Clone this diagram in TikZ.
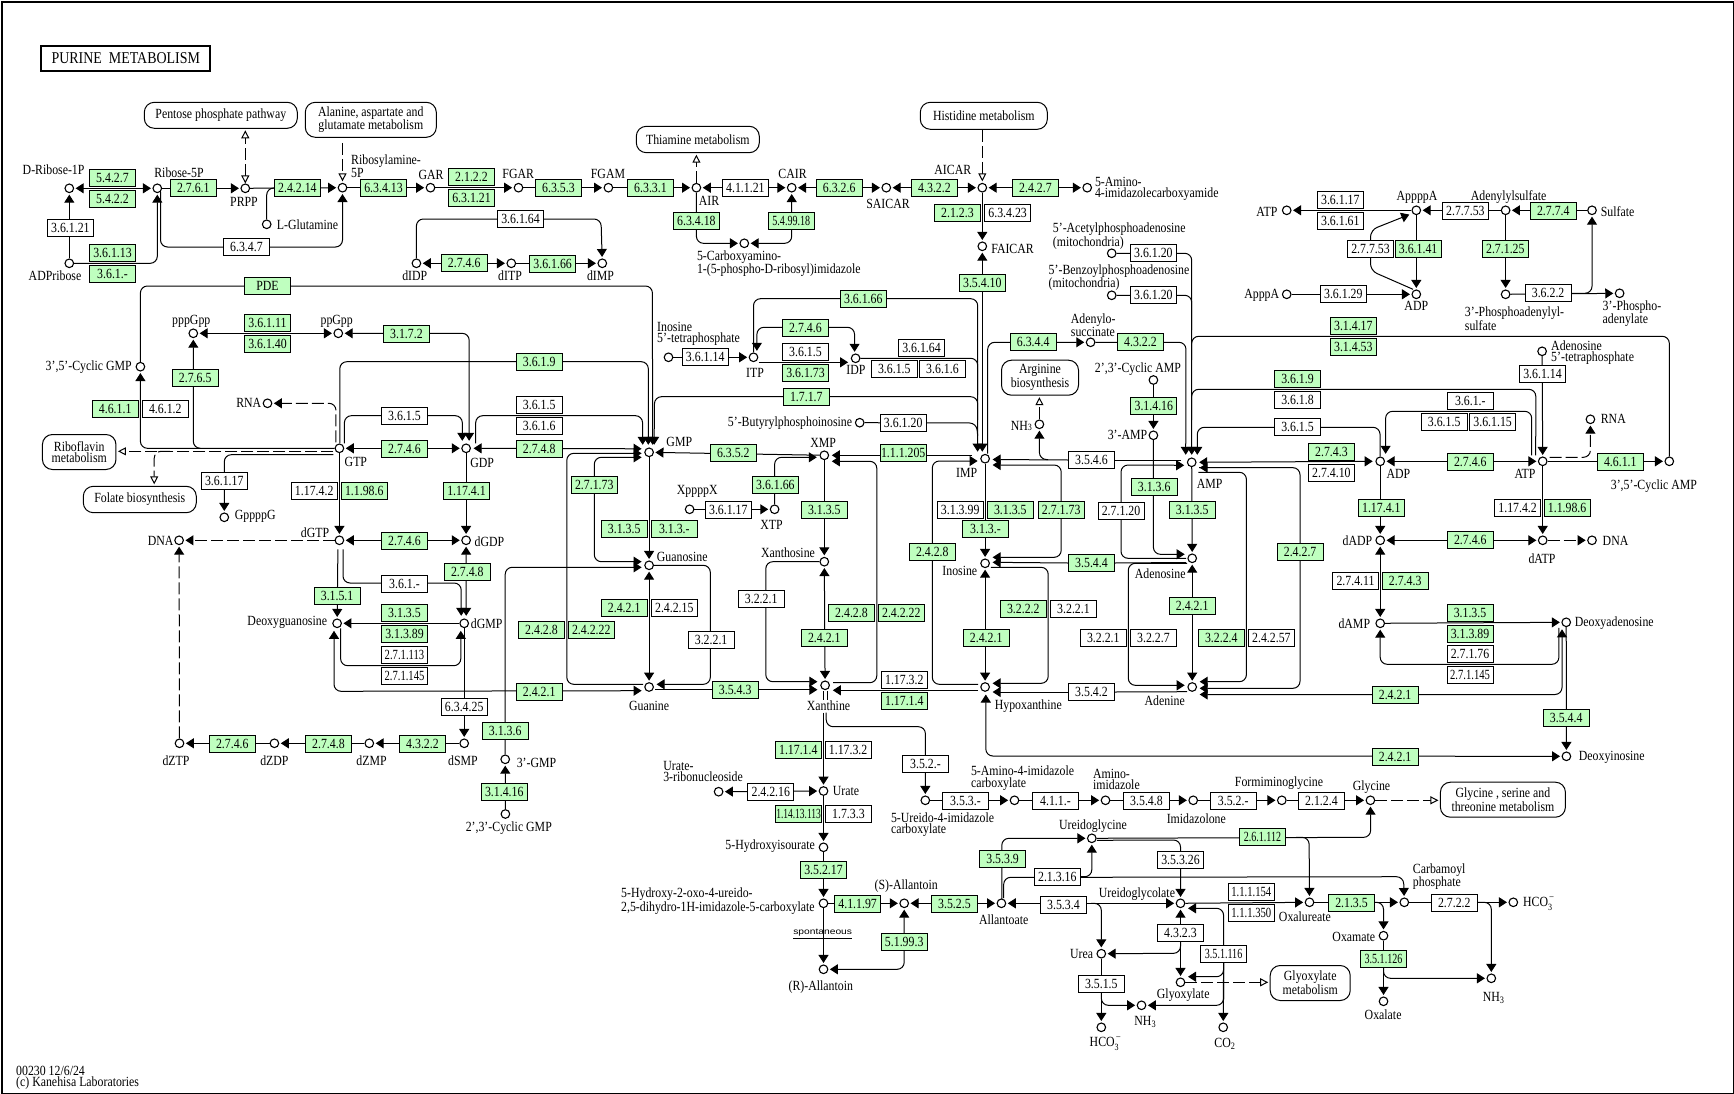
\documentclass[tikz,border=0pt]{standalone}
\usepackage{fontspec}
\setmainfont{Liberation Serif}[FakeStretch=0.845]
\newfontfamily\ksans{Liberation Sans}
\usetikzlibrary{arrows.meta,calc}
\definecolor{kg}{HTML}{BFFFBF}
\pgfdeclarelayer{bg}\pgfsetlayers{bg,main}
\newcommand{\hcot}{HCO\rlap{\raisebox{-.28em}{\fontsize{9.5}{9.5}\selectfont 3}}\raisebox{.5em}{\fontsize{9.5}{9.5}\selectfont\,--}}
\tikzset{
 boxbase/.style={draw=black,line width=1pt,inner sep=0pt,minimum width=46pt,minimum height=17.3pt,font=\fontsize{14}{14}\selectfont},
 en/.style={boxbase,fill=kg},
 wn/.style={boxbase,fill=white},
 cp/.style={circle,draw=black,fill=white,line width=1.1pt,inner sep=0pt,minimum size=8.6pt},
 mapn/.style={draw=black,fill=white,line width=1pt,rounded corners=10pt,inner sep=0pt,align=center,font=\fontsize{14}{11.2}\selectfont},
 lb/.style={inner sep=0pt,align=center,font=\fontsize{14}{11.2}\selectfont},
 lbl/.style={lb,anchor=west,align=left},
 lbr/.style={lb,anchor=east,align=right},
 ln/.style={line width=1pt,black},
 ar/.style={ln,-{Triangle[length=8pt,width=10pt]},shorten >=1.5pt},
 ra/.style={ln,{Triangle[length=8pt,width=10pt]}-,shorten <=1.5pt},
 lr/.style={ln,{Triangle[length=8pt,width=10pt]}-{Triangle[length=8pt,width=10pt]},shorten >=1.5pt,shorten <=1.5pt},
 rc/.style={rounded corners=7pt},
 dsh/.style={dash pattern=on 12pt off 4pt},
 dfil/.style={ar,dsh},
 dopn/.style={ln,dsh,-{Triangle[open,fill=white,length=8pt,width=8pt]},shorten >=1.5pt},
 dopb/.style={ln,dsh,{Triangle[open,fill=white,length=8pt,width=8pt]}-{Triangle[open,fill=white,length=8pt,width=8pt]},shorten >=1.5pt},
}
\newcommand{\sq}[2][.85]{\scalebox{#1}[1]{#2}}
\begin{document}
\begin{tikzpicture}[x=1pt,y=-1pt]
\useasboundingbox (0,0) rectangle (1734,1094);
\node[draw=black,line width=2pt,minimum width=1732pt,minimum height=1092pt,inner sep=0pt,anchor=north west] (frame) at (1,1) {};
\node[draw=black,line width=2.2pt,minimum width=169pt,minimum height=25.5pt,inner sep=0pt,font=\fontsize{16.5}{17}\selectfont] (title) at (125.8,58.5) {PURINE\ \ METABOLISM};
\node[lbl] (foot) at (16,1078) {00230 12/6/24\\(c) Kanehisa Laboratories};
% maps
\node[mapn,minimum width=153pt,minimum height=26pt] (mPent) at (220.8,115.3) {Pentose phosphate pathway};
\node[mapn,minimum width=131pt,minimum height=35pt] (mAla) at (370.8,119.8) {Alanine, aspartate and\\glutamate metabolism};
\node[mapn,minimum width=123pt,minimum height=26.4pt] (mThi) at (697.8,139.5) {Thiamine metabolism};
\node[mapn,minimum width=127pt,minimum height=27pt] (mHis) at (983.8,115.8) {Histidine metabolism};
\node[mapn,minimum width=77pt,minimum height=35pt] (mArg) at (1040,377.7) {Arginine\\biosynthesis};
\node[mapn,minimum width=73.5pt,minimum height=35pt] (mRib) at (79.2,452) {Riboflavin\\metabolism};
\node[mapn,minimum width=113pt,minimum height=26.4pt] (mFol) at (139.8,499.5) {Folate biosynthesis};
\node[mapn,minimum width=125pt,minimum height=35pt] (mGly) at (1502.9,799.7) {Glycine , serine and\\threonine metabolism};
\node[mapn,minimum width=80pt,minimum height=35pt] (mGlx) at (1310.2,983) {Glyoxylate\\metabolism};
% compounds
\foreach \n/\x/\y in {DRP/69.3/188.3,RFP/157.3/188.3,PRPP/245.3/188.3,RibA/342.5/187.7,GAR/430.5/187.7,FGAR/518.5/187.7,FGAM/608.4/187.7,AIR/696.4/187.7,CAIR/791.7/187.7,SAICAR/886.3/187.7,AICAR/982.3/187.7,AmImid/1087.2/187.7,ADPR/69.3/263.3,LGln/266.7/224.3,dIDP/416.4/263.3,dITP/511.3/263.3,dIMP/602.3/263.3,CarbAm/744.3/243.3,FAICAR/982.3/246.3,AcetP/1111.7/253.3,BenzP/1111.7/295.3,AdSuc/1090.6/342.3,ITP/753.5/357.3,IDP/855.6/358.3,ITetra/668.5/357.3,cAMPtt/1153.4/380,NHa/1039.4/424.3,pppGpp/193.3/333.3,ppGpp/338.3/333.3,cGMP/140.4/366.7,RNAa/267.5/403.3,GTP/339.4/448.3,GDP/466.1/448.3,GMP/649.1/452.3,XMP/824.3/455.3,IMP/985.1/458.7,AMP/1191.7/462.3,ADP/1380.2/461.3,ATP/1542.7/461.3,cAMP/1669.3/461.3,RNAb/1590.4/419.3,AdoTetra/1542.1/351.3,tAMP/1153.4/435.3,ATPtop/1286.7/210.3,AppppA/1416.3/210.3,AdSulf/1505.6/210.3,Sulfate/1592/210.3,ApppA/1286.7/294.3,ADPtop/1416.3/294.3,PAPS/1505.6/294.3,PAP/1619.6/293.3,GppppG/224.3/517.3,dGTP/339.4/540.3,dGDP/466.1/540.3,DNAa/179.1/540.3,XTP/774.6/509.3,XppppX/689.6/509.3,Guo/649.1/565.3,Xao/824.3/561.7,Ino/985.1/563.3,Ado/1192.2/558.3,dADP/1380.2/540.3,dATP/1542.7/540.3,DNAb/1592/540.3,dAMP/1380.2/623.3,dAdo/1566.2/622.3,dGuo/337.1/623.3,dGMP/464.2/623.3,Gua/649.1/687,Xan/825.1/685.3,Hyp/985.1/687,Ade/1192.2/687,dIno/1566.4/756.3,dZTP/179.5/743.3,dZDP/274.4/743.3,dZMP/369.3/743.3,dSMP/464.2/743.3,tGMP/505.2/759.3,cGMPtt/505.4/814,Urate/823.5/791,URibo/718.6/791.7,HIU/823.5/847.3,HOU/823.5/903.3,SAll/904.2/903.3,RAll/823.5/969.3,Allto/1001.4/903.3,UrImid/925.3/800.3,AmImC/1014.5/800.3,AmIm/1105.5/800.3,Imdz/1193.2/800.3,Fgly/1281.8/800.3,Gly/1370.4/800.3,UGly/1091.8/838.3,UGlc/1180.5/903.3,Urea/1101.3/953.7,NHb/1141.5/1005.3,HCOa/1101.3/1027.3,Glx/1180.5/982.3,COt/1223.2/1027.3,Oxu/1309.5/902.3,CbP/1404.3/902.3,HCOb/1513.3/902.3,Oxam/1383.5/935.7,Oxal/1383.5/1001.3,NHc/1491.3/978.3,Buty/859.7/422.7}
 {\node[cp] (\n) at (\x,\y) {};}
% enzymes green
\node[en] (e1) at (112.5,178) {5.4.2.7};
\node[en] (e2) at (112.5,199) {5.4.2.2};
\node[en] (e3) at (193.3,188) {2.7.6.1};
\node[en] (e4) at (297.4,188) {2.4.2.14};
\node[en] (e5) at (383.5,188) {6.3.4.13};
\node[en] (e6) at (471.5,177.3) {2.1.2.2};
\node[en] (e7) at (471.5,198) {6.3.1.21};
\node[en] (e8) at (558.4,188) {6.3.5.3};
\node[en] (e9) at (650.5,188) {6.3.3.1};
\node[en] (e10) at (839.2,188) {6.3.2.6};
\node[en] (e11) at (934.5,188) {4.3.2.2};
\node[en] (e12) at (1035.5,188) {2.4.2.7};
\node[en] (e13) at (696.4,221) {6.3.4.18};
\node[en] (e14) at (791.3,221) {\sq{5.4.99.18}};
\node[en] (e15) at (957.4,213.3) {2.1.2.3};
\node[en] (e16) at (982.3,283) {3.5.4.10};
\node[en] (e17) at (112.5,253) {3.6.1.13};
\node[en] (e18) at (112.5,274) {3.6.1.-};
\node[en] (e19) at (464.2,263) {2.7.4.6};
\node[en] (e20) at (552.6,264.3) {3.6.1.66};
\node[en] (e21) at (267.5,286) {PDE};
\node[en] (e22) at (267.5,323) {3.6.1.11};
\node[en] (e23) at (267.5,344) {3.6.1.40};
\node[en] (e24) at (406.4,334) {3.1.7.2};
\node[en] (e25) at (539.2,361.7) {3.6.1.9};
\node[en] (e26) at (195.2,378) {2.7.6.5};
\node[en] (e27) at (115.2,409) {4.6.1.1};
\node[en] (e28) at (404.5,449) {2.7.4.6};
\node[en] (e29) at (539.2,449) {2.7.4.8};
\node[en] (e30) at (364.3,491) {1.1.98.6};
\node[en] (e31) at (466.5,491) {1.17.4.1};
\node[en] (e32) at (404.5,541) {2.7.4.6};
\node[en] (e33) at (467.3,572) {2.7.4.8};
\node[en] (e34) at (337.1,596) {3.1.5.1};
\node[en] (e35) at (404.5,613) {3.1.3.5};
\node[en] (e36) at (404.5,634) {3.1.3.89};
\node[en] (e37) at (541.5,630) {2.4.2.8};
\node[en] (e38) at (591.3,630) {2.4.2.22};
\node[en] (e39) at (539.2,692) {2.4.2.1};
\node[en] (e40) at (505.2,731) {3.1.3.6};
\node[en] (e41) at (422.5,744) {4.3.2.2};
\node[en] (e42) at (328.4,744) {2.7.4.8};
\node[en] (e43) at (232.3,744) {2.7.4.6};
\node[en] (e44) at (504.3,792) {3.1.4.16};
\node[en] (e45) at (594.3,485) {2.7.1.73};
\node[en] (e46) at (624.2,528.7) {3.1.3.5};
\node[en] (e47) at (674.3,528.7) {3.1.3.-};
\node[en] (e48) at (733.3,452.7) {6.3.5.2};
\node[en] (e49) at (903.2,452.7) {1.1.1.205};
\node[en] (e50) at (775.4,485) {3.6.1.66};
\node[en] (e51) at (824.3,510) {3.1.3.5};
\node[en] (e52) at (851.5,612.7) {2.4.2.8};
\node[en] (e53) at (901.3,612.7) {2.4.2.22};
\node[en] (e54) at (624.2,608) {2.4.2.1};
\node[en] (e55) at (824.3,638) {2.4.2.1};
\node[en] (e56) at (735.2,689.7) {3.5.4.3};
\node[en] (e57) at (904.3,701) {1.17.1.4};
\node[en] (e58) at (1010.3,509.7) {3.1.3.5};
\node[en] (e59) at (1061.2,509.7) {2.7.1.73};
\node[en] (e60) at (985.5,528.7) {3.1.3.-};
\node[en] (e61) at (932.3,552) {2.4.2.8};
\node[en] (e62) at (1091.5,563) {3.5.4.4};
\node[en] (e63) at (1023.3,609) {3.2.2.2};
\node[en] (e64) at (986.2,638) {2.4.2.1};
\node[en] (e65) at (798.3,750) {1.17.1.4};
\node[en] (e66) at (863.3,298.7) {3.6.1.66};
\node[en] (e67) at (805.5,328) {2.7.4.6};
\node[en] (e68) at (805.5,372.7) {3.6.1.73};
\node[en] (e69) at (806.3,396.7) {1.7.1.7};
\node[en] (e70) at (1033.2,342) {6.3.4.4};
\node[en] (e71) at (1140.4,342) {4.3.2.2};
\node[en] (e72) at (1553.3,211) {2.7.7.4};
\node[en] (e73) at (1418.1,249) {3.6.1.41};
\node[en] (e74) at (1505.3,249) {2.7.1.25};
\node[en] (e75) at (1353.3,325.7) {3.1.4.17};
\node[en] (e76) at (1353.3,346.7) {3.1.4.53};
\node[en] (e77) at (1297.5,379) {3.6.1.9};
\node[en] (e78) at (1331.4,452) {2.7.4.3};
\node[en] (e79) at (1470.3,462) {2.7.4.6};
\node[en] (e80) at (1620.3,461.7) {4.6.1.1};
\node[en] (e81) at (1381.3,508) {1.17.4.1};
\node[en] (e82) at (1567.1,508) {1.1.98.6};
\node[en] (e83) at (1470.3,540) {2.7.4.6};
\node[en] (e84) at (1153.8,406) {3.1.4.16};
\node[en] (e85) at (1154.2,487.3) {3.1.3.6};
\node[en] (e86) at (1192.2,510) {3.1.3.5};
\node[en] (e87) at (1300.1,552) {2.4.2.7};
\node[en] (e88) at (1405.2,581) {2.7.4.3};
\node[en] (e89) at (1192.2,605.7) {2.4.2.1};
\node[en] (e90) at (1221.3,638) {3.2.2.4};
\node[en] (e91) at (1470,613) {3.1.3.5};
\node[en] (e92) at (1470,634) {3.1.3.89};
\node[en] (e93) at (1395.1,694.7) {2.4.2.1};
\node[en] (e94) at (1566.2,717.7) {3.5.4.4};
\node[en] (e95) at (1395.1,756.7) {2.4.2.1};
\node[en] (e96) at (798.6,814) {\sq[.8]{1.14.13.113}};
\node[en] (e97) at (823.5,870) {3.5.2.17};
\node[en] (e98) at (857.6,903.7) {4.1.1.97};
\node[en] (e99) at (954.4,903.7) {3.5.2.5};
\node[en] (e100) at (904.2,942) {5.1.99.3};
\node[en] (e101) at (1002.6,859) {3.5.3.9};
\node[en] (e102) at (1262.5,837) {\sq{2.6.1.112}};
\node[en] (e103) at (1351.5,902.7) {2.1.3.5};
\node[en] (e104) at (1383.5,959) {\sq{3.5.1.126}};
% enzymes white
\node[wn] (w1) at (745.4,188) {4.1.1.21};
\node[wn] (w2) at (1007.6,213.3) {6.3.4.23};
\node[wn] (w3) at (1153.4,253.3) {3.6.1.20};
\node[wn] (w4) at (1153.4,295.3) {3.6.1.20};
\node[wn] (w5) at (70.4,228.3) {3.6.1.21};
\node[wn] (w6) at (246.4,247) {6.3.4.7};
\node[wn] (w7) at (520.5,219) {3.6.1.64};
\node[wn] (w8) at (165.3,409) {4.6.1.2};
\node[wn] (w9) at (404.5,416) {3.6.1.5};
\node[wn] (w10) at (539.2,405) {3.6.1.5};
\node[wn] (w11) at (539.2,426) {3.6.1.6};
\node[wn] (w12) at (224.3,481) {3.6.1.17};
\node[wn] (w13) at (314.2,491) {1.17.4.2};
\node[wn] (w14) at (404.5,584) {3.6.1.-};
\node[wn] (w15) at (404.5,655) {\sq[.9]{2.7.1.113}};
\node[wn] (w16) at (404.5,676) {\sq[.9]{2.7.1.145}};
\node[wn] (w17) at (464.2,707) {6.3.4.25};
\node[wn] (w18) at (728.3,509.7) {3.6.1.17};
\node[wn] (w19) at (761.2,599) {3.2.2.1};
\node[wn] (w20) at (674.3,608) {2.4.2.15};
\node[wn] (w21) at (711.1,639.7) {3.2.2.1};
\node[wn] (w22) at (904.3,680) {1.17.3.2};
\node[wn] (w23) at (960.2,509.7) {3.1.3.99};
\node[wn] (w24) at (1073.5,609) {3.2.2.1};
\node[wn] (w25) at (1103.3,638) {3.2.2.1};
\node[wn] (w26) at (1091.5,692) {3.5.4.2};
\node[wn] (w27) at (1091.5,460) {3.5.4.6};
\node[wn] (w28) at (903.2,423) {3.6.1.20};
\node[wn] (w29) at (848.1,750) {1.17.3.2};
\node[wn] (w30) at (925.4,763.7) {3.5.2.-};
\node[wn] (w31) at (770.8,792.3) {2.4.2.16};
\node[wn] (w32) at (805.5,352) {3.6.1.5};
\node[wn] (w33) at (705.2,356.7) {3.6.1.14};
\node[wn] (w34) at (921.5,347.7) {3.6.1.64};
\node[wn] (w35) at (894.3,369) {3.6.1.5};
\node[wn] (w36) at (942.5,369) {3.6.1.6};
\node[wn] (w37) at (1340.3,200) {3.6.1.17};
\node[wn] (w38) at (1340.3,221) {3.6.1.61};
\node[wn] (w39) at (1465.4,211) {2.7.7.53};
\node[wn] (w40) at (1370.5,249) {2.7.7.53};
\node[wn] (w41) at (1343.3,293.7) {3.6.1.29};
\node[wn] (w42) at (1548.1,293) {3.6.2.2};
\node[wn] (w43) at (1542.5,374) {3.6.1.14};
\node[wn] (w44) at (1297.5,400) {3.6.1.8};
\node[wn] (w45) at (1470.3,400.7) {3.6.1.-};
\node[wn] (w46) at (1444.2,421.7) {3.6.1.5};
\node[wn] (w47) at (1492.6,421.7) {3.6.1.15};
\node[wn] (w48) at (1297.5,426.7) {3.6.1.5};
\node[wn] (w49) at (1331.4,473) {2.7.4.10};
\node[wn] (w50) at (1517.6,508) {1.17.4.2};
\node[wn] (w51) at (1121,510.7) {2.7.1.20};
\node[wn] (w52) at (1355.5,581) {2.7.4.11};
\node[wn] (w53) at (1153.4,638) {3.2.2.7};
\node[wn] (w54) at (1271.4,638) {2.4.2.57};
\node[wn] (w55) at (1470,654.3) {2.7.1.76};
\node[wn] (w56) at (1470,675.3) {\sq[.9]{2.7.1.145}};
\node[wn] (w57) at (848.4,814) {1.7.3.3};
\node[wn] (w58) at (965.5,800.7) {3.5.3.-};
\node[wn] (w59) at (1055.4,800.7) {4.1.1.-};
\node[wn] (w60) at (1146.5,800.7) {3.5.4.8};
\node[wn] (w61) at (1057.3,877.3) {2.1.3.16};
\node[wn] (w62) at (1063.4,904.7) {3.5.3.4};
\node[wn] (w63) at (1180.5,860) {3.5.3.26};
\node[wn] (w64) at (1180.5,933.3) {4.3.2.3};
\node[wn] (w65) at (1101.3,984) {3.5.1.5};
\node[wn] (w66) at (1233.2,800.7) {3.5.2.-};
\node[wn] (w67) at (1321.4,800.7) {2.1.2.4};
\node[wn] (w68) at (1251.3,892) {\sq[.9]{1.1.1.154}};
\node[wn] (w69) at (1251.3,913) {\sq[.9]{1.1.1.350}};
\node[wn] (w70) at (1454.3,902.7) {2.7.2.2};
\node[wn] (w71) at (1223.6,954) {\sq{3.5.1.116}};
% labels
\node[lb] (t1) at (53.6,170) {D-Ribose-1P};
\node[lb] (t2) at (179,172.7) {Ribose-5P};
\node[lb] (t3) at (244,202.3) {PRPP};
\node[lbl] (t4) at (351,166.5) {Ribosylamine-\\5P};
\node[lb] (t5) at (431,175.3) {GAR};
\node[lb] (t6) at (518.2,174.3) {FGAR};
\node[lb] (t7) at (608,174) {FGAM};
\node[lb] (t8) at (55,275.7) {ADPribose};
\node[lbl] (t9) at (276.7,225) {L-Glutamine};
\node[lb] (t10) at (414.8,275.7) {dIDP};
\node[lb] (t11) at (510,275.7) {dITP};
\node[lb] (t12) at (600.5,276) {dIMP};
\node[lb] (t13) at (191.3,321) {pppGpp};
\node[lb] (t14) at (336.7,321) {ppGpp};
\node[lbr] (t15) at (132,367.3) {3',5'-Cyclic GMP};
\node[lb] (t16) at (709,200.7) {AIR};
\node[lb] (t17) at (792.5,174.3) {CAIR};
\node[lb] (t18) at (888,204.3) {SAICAR};
\node[lb] (t19) at (952.8,169.7) {AICAR};
\node[lbl] (t20) at (1094.8,188.7) {5-Amino-\\4-imidazolecarboxyamide};
\node[lbl] (t21) at (696.8,263.7) {5-Carboxyamino-\\1-(5-phospho-D-ribosyl)imidazole};
\node[lbl] (t22) at (991.1,248.7) {FAICAR};
\node[lbl] (t23) at (1052.7,236.3) {5'-Acetylphosphoadenosine\\(mitochondria)};
\node[lbl] (t24) at (1048.5,277.7) {5'-Benzoylphosphoadenosine\\(mitochondria)};
\node[lbl] (t25) at (1070.7,325.5) {Adenylo-\\succinate};
\node[lb] (t26) at (1138,369.3) {2',3'-Cyclic AMP};
\node[lbl] (t27) at (657,333.7) {Inosine\\5'-tetraphosphate};
\node[lb] (t28) at (755,372.7) {ITP};
\node[lb] (t29) at (856,370) {IDP};
\node[lb] (t30) at (1267,211.7) {ATP};
\node[lb] (t31) at (1417,197.7) {AppppA};
\node[lb] (t32) at (1508.6,197) {Adenylylsulfate};
\node[lbl] (t33) at (1600.6,211.7) {Sulfate};
\node[lb] (t34) at (1261.7,295.7) {ApppA};
\node[lb] (t35) at (1416.3,306) {ADP};
\node[lbl] (t36) at (1464.7,318.3) {3'-Phosphoadenylyl-\\sulfate};
\node[lbl] (t37) at (1602.5,313.7) {3'-Phospho-\\adenylate};
\node[lbl] (t38) at (1551,352.5) {Adenosine\\5'-tetraphosphate};
\node[lbl] (t39) at (1600.6,419.3) {RNA};
\node[lb] (t40) at (1209.6,484.3) {AMP};
\node[lb] (t41) at (1398.4,474.3) {ADP};
\node[lb] (t42) at (1525,474.3) {ATP};
\node[lb] (t43) at (1653.9,485.7) {3',5'-Cyclic AMP};
\node[lb] (t44) at (1357.4,540.7) {dADP};
\node[lbl] (t45) at (1602.5,541.3) {DNA};
\node[lb] (t46) at (1542,558.7) {dATP};
\node[lb] (t47) at (1127.5,435.3) {3'-AMP};
\node[lb] (t48) at (1160.2,573.7) {Adenosine};
\node[lb] (t49) at (1164.7,701) {Adenine};
\node[lb] (t50) at (1354.3,623.3) {dAMP};
\node[lbl] (t51) at (1574.6,622.7) {Deoxyadenosine};
\node[lbl] (t52) at (1578.7,757.7) {Deoxyinosine};
\node[lb] (t53) at (248.8,403.3) {RNA};
\node[lb] (t54) at (355.9,462.3) {GTP};
\node[lb] (t55) at (482.2,463.3) {GDP};
\node[lbl] (t56) at (234.6,516.7) {GppppG};
\node[lb] (t57) at (315,532.7) {dGTP};
\node[lbl] (t58) at (474.5,541.3) {dGDP};
\node[lb] (t59) at (160.7,541.3) {DNA};
\node[lbr] (t60) at (327.2,622.7) {Deoxyguanosine};
\node[lbl] (t61) at (470.7,623.3) {dGMP};
\node[lb] (t62) at (176,760.3) {dZTP};
\node[lb] (t63) at (274.4,760.3) {dZDP};
\node[lb] (t64) at (371.6,760.3) {dZMP};
\node[lb] (t65) at (463,760.3) {dSMP};
\node[lbl] (t66) at (516.6,763.3) {3'-GMP};
\node[lb] (t67) at (508.8,828.4) {2',3'-Cyclic GMP};
\node[lb] (t68) at (679.3,442.3) {GMP};
\node[lb] (t69) at (823.2,443.3) {XMP};
\node[lb] (t70) at (966.7,473.3) {IMP};
\node[lb] (t71) at (697.3,491.3) {XppppX};
\node[lb] (t72) at (771.5,525.3) {XTP};
\node[lbl] (t73) at (656.7,556.7) {Guanosine};
\node[lb] (t74) at (788,552.7) {Xanthosine};
\node[lb] (t75) at (959.8,571) {Inosine};
\node[lb] (t76) at (649.1,705.7) {Guanine};
\node[lb] (t77) at (828.5,705.7) {Xanthine};
\node[lbl] (t78) at (994.6,705.7) {Hypoxanthine};
\node[lb] (t79) at (1021.4,425.7) {NH{\fontsize{9.5}{9.5}\selectfont 3}};
\node[lbr] (t80) at (852.3,422.7) {5'-Butyrylphosphoinosine};
\node[lbl] (t81) at (663.1,771.8) {Urate-\\3-ribonucleoside};
\node[lbl] (t82) at (832.7,790.7) {Urate};
\node[lbr] (t83) at (815,846) {5-Hydroxyisourate};
\node[lbl] (t84) at (621,901.5) {5-Hydroxy-2-oxo-4-ureido-\\2,5-dihydro-1H-imidazole-5-carboxylate};
\node[lb] (t85) at (906.2,885.7) {(S)-Allantoin};
\node[lb,font=\ksans\fontsize{8.4}{9}\selectfont] (t86) at (822.7,934) {\scalebox{1.22}[1]{\underline{spontaneous}}};
\node[lb] (t87) at (820.8,986.7) {(R)-Allantoin};
\node[lbl] (t88) at (890.8,824.3) {5-Ureido-4-imidazole\\carboxylate};
\node[lbl] (t89) at (970.8,778.2) {5-Amino-4-imidazole\\carboxylate};
\node[lbl] (t90) at (1092.9,779.5) {Amino-\\imidazole};
\node[lb] (t91) at (1196.3,818.7) {Imidazolone};
\node[lb] (t92) at (1279,783) {Formiminoglycine};
\node[lb] (t93) at (1371.5,787) {Glycine};
\node[lb] (t94) at (1092.9,825.7) {Ureidoglycine};
\node[lb] (t95) at (1136.9,893.7) {Ureidoglycolate};
\node[lb] (t96) at (1003.7,920) {Allantoate};
\node[lbr] (t97) at (1093.3,953.7) {Urea};
\node[lb] (t98) at (1105,1044) {\hcot};
\node[lb] (t99) at (1145.3,1021.7) {NH\textsubscript{3}};
\node[lb] (t100) at (1183.2,995) {Glyoxylate};
\node[lb] (t101) at (1225,1044) {CO\textsubscript{2}};
\node[lb] (t102) at (1304.9,916.7) {Oxalureate};
\node[lbl] (t103) at (1412.7,876.5) {Carbamoyl\\phosphate};
\node[lb] (t104) at (1353.8,937) {Oxamate};
\node[lb] (t105) at (1383.1,1014.7) {Oxalate};
\node[lb] (t106) at (1493.6,997.7) {NH\textsubscript{3}};
\node[lbl] (t107) at (1522.9,903.7) {\hcot};
\begin{pgfonlayer}{bg}
% top row
\draw[lr] (DRP) -- (RFP);
\draw[ar] (ADPR) -- (DRP);
\draw[ar,rc] (ADPR) -| (RFP);
\draw[ar] (RFP) -- (PRPP);
\draw[ar] (PRPP) -- (RibA);
\draw[ln,rc] (LGln) |- (e4.west);
\draw[ar,rc] ($(RFP)+(3.2,3.5)$) -- (160.5,247) -- (342.5,247) -- (RibA);
\draw[ar] (RibA) -- (GAR);
\draw[ar] (GAR) -- (FGAR);
\draw[ar] (FGAR) -- (FGAM);
\draw[ar] (FGAM) -- (AIR);
\draw[lr] (AIR) -- (CAIR);
\draw[lr] (CAIR) -- (SAICAR);
\draw[lr] (SAICAR) -- (AICAR);
\draw[lr] (AICAR) -- (AmImid);
\draw[ar,rc] (AIR) |- (CarbAm);
\draw[lr,rc] (CarbAm) -| (CAIR);
\draw[dopn] (AIR) -- (mThi.south -| AIR);
\draw[dopb] (PRPP) -- (mPent.south -| PRPP);
\draw[dopn] ($(mAla.south -| RibA)+(0,5)$) -- (RibA);
\draw[dopn] (mHis.south -| AICAR) -- (AICAR);
\draw[ar] (AICAR) -- (FAICAR);
\draw[ra] (FAICAR) -- (982.3,440);
\draw[ar,rc] (dIDP) |- (601,219) -- (dIMP);
\draw[lr] (dIDP) -- (dITP);
\draw[ar] (dITP) -- (dIMP);
% IMP top
\draw[ar] (982.3,440) -- ($(IMP)+(-2.8,-5.5)$);
\draw[ar,rc] (ITP) |- (977.7,298.7) -- ($(IMP)+(-7.5,-5.5)$);
\draw[ln,rc] (IDP) -- (977.7,358.3) -- (977.7,395);
\draw[ar,rc] (977.7,420) -- (977.7,396.7) -- (654.5,396.7) -- ($(GMP)+(5,-6)$);
\draw[ln,rc] (Buty) -- (976.5,423) -- (977.7,436);
\draw[ar,rc] ($(IMP)+(2.6,-5)$) |- (AdSuc);
\draw[ar,rc] (AdSuc) -- (1186,342.3) -- ($(AMP)+(-6,-6)$);
\draw[ar] (ITetra) -- (ITP);
\draw[ar] ($(ITP)+(5,5)$) -- ($(IDP)+(-6,4)$);
\draw[lr,rc] ($(ITP)+(3.4,-5)$) |- (854.5,327.3) -- ($(IDP)+(-1,-5)$);
% AMP top
\draw[ar,rc] (AcetP) -| ($(AMP)+(0,-6)$);
\draw[ln,rc] (BenzP) -- (1191.7,295.3) -- (1191.7,330);
\draw[ln,rc] (cAMP) |- (1191.7,336.3) -- (1191.7,360);
\draw[ln,rc] ($(ATP)+(-7,-6)$) -- (1535.8,389.3) -- (1191.7,389.3) -- (1191.7,420);
\draw[ar,rc] ($(ADP)+(0,-5)$) -- (1380,427.3) -- (1197.3,427.3) -- ($(AMP)+(5.6,-6)$);
\draw[ar,rc] ($(ATP)+(-11,-6)$) -- (1531.7,411.3) -- (1385.6,411.3) -- ($(ADP)+(5.4,-6)$);
\draw[ar] (cAMPtt) -- (tAMP);
\draw[ar,rc] (tAMP) |- ($(Ado)+(-6,-4)$);
% AMP sides
\draw[lr] ($(AMP)+(6,0)$) -- ($(ADP)+(-6,0)$);
\draw[ar,rc] (1199,467.7) -- (1300,467.7) -- (1300,688.3) -- ($(Ade)+(6,1.3)$);
\draw[ra,rc] ($(AMP)+(6.5,5.4)$) -- (1220,467.7);
\draw[ar,rc] (1198.4,472.3) -- (1246.4,472.3) -- (1246.4,681.7) -- ($(Ade)+(6,-5.3)$);
\draw[lr,rc] ($(dAdo)+(-4.2,5.5)$) -- (1562,694.5) -- ($(Ade)+(6,7.5)$);
\draw[ln] (1181,460) -- (w27.east);
\draw[ar] (w27.west) -- ($(IMP)+(6,.8)$);
\draw[ar,rc] (1186,558.3) -- (1121,558.3) -- (1121,465) -- ($(AMP)+(-6,3)$);
\draw[ln] (1186,562.5) -- (e62.east);
\draw[ar] (e62.west) -- ($(Ino)+(6,-1)$);
\draw[ar,rc] (1187,563.3) -- (1128.3,563.3) -- (1128.3,685.3) -- ($(Ade)+(-6,-1.7)$);
\draw[ln] ($(Ade)+(-5,4.7)$) -- (w26.east);
\draw[ar] (w26.west) -- ($(Hyp)+(6,5)$);
\draw[lr] (Ado) -- (Ade);
\draw[ar] (AMP) -- (Ado);
% GMP
\draw[lr] ($(GDP)+(6,0)$) -- ($(GMP)+(-6,-3.5)$);
\draw[ar,rc] ($(GDP)+(9.6,-5)$) -- (475.7,415.7) -- (642.5,415.7) -- ($(GMP)+(-6.4,-6)$);
\draw[ar,rc] (339.8,443) -- (339.8,361.7) -- (648.3,361.7) -- ($(GMP)+(-.8,-6)$);
\draw[ar,rc] (cGMP) |- (652.4,286) -- ($(GMP)+(3.5,-6)$);
\draw[ar,rc] (GTP) -- (140.4,448.3) -- (cGMP);
\draw[ar,rc] (200,448.3) -- (193.3,448.3) -- (pppGpp);
\draw[lr] (pppGpp) -- (ppGpp);
\draw[lr,rc] ($(GDP)+(3,-6)$) -- (469.2,333.3) -- (ppGpp);
\draw[lr] (GTP) -- (GDP);
\draw[ar,rc] ($(GTP)+(5,-5)$) -- (344.4,415.7) -- (462.3,415.7) -- ($(GDP)+(-3.8,-6)$);
\draw[dfil,rc] ($(GTP)+(-3.5,-6)$) -- (336,403.3) -- (RNAa);
\draw[dopn] ($(GTP)+(-6,3)$) -- (mRib.east |- 0,451.3);
\draw[dopn,rc] (170,451.3) -- (154.2,451.3) -- (mFol.north -| 154.2,0);
\draw[ar,rc] ($(GTP)+(-6,6.4)$) -- (224.3,454.7) -- (GppppG);
\draw[ar] (GTP) -- (dGTP);
\draw[ar] (GDP) -- (dGDP);
\draw[dfil] (dGTP) -- (DNAa);
\draw[lr] (dGTP) -- (dGDP);
\draw[lr] (dGDP) -- ($(dGMP)+(2,-6)$);
\draw[ar,rc] ($(dGTP)+(3.6,9)$) -- (343,583) -- (461.2,583) -- ($(dGMP)+(-3,-6)$);
\draw[ar] ($(dGTP)+(-1.5,9)$) -- (dGuo);
\draw[ar] (dGMP) -- (dGuo);
\draw[ar,rc] ($(dGuo)+(3.5,5)$) -- (340.6,665.7) -- (460.8,665.7) -- ($(dGMP)+(-3.4,6)$);
\draw[lr,rc] ($(dGuo)+(-3.1,6)$) -- (334,691.3) -- ($(Gua)+(-6,3.7)$);
\draw[ar] (dGMP) -- (dSMP);
\draw[ar] (dSMP) -- (dZMP);
\draw[ar] (dZMP) -- (dZDP);
\draw[ar] (dZDP) -- (dZTP);
\draw[dfil] (dZTP) -- (DNAa);
\draw[ar,rc] (tGMP) |- ($(Guo)+(-6,2)$);
\draw[ar] (cGMPtt) -- (tGMP);
\draw[lr,rc] ($(GMP)+(-6,5)$) -- (594.3,457.3) -- (594.3,561.7) -- ($(Guo)+(-6,-3.6)$);
\draw[ar,rc] (643,684.3) -- (566.8,684.3) -- (566.8,453.3) -- ($(GMP)+(-6,1)$);
\draw[ar] (GMP) -- (Guo);
\draw[lr] (Guo) -- (Gua);
\draw[ar,rc] (Guo) -- (710.3,565.3) -- (710.3,684.3) -- ($(Gua)+(6,-2.7)$);
\draw[ar] ($(Gua)+(6,2.7)$) -- ($(Xan)+(-6.2,4.4)$);
\draw[ar] (XMP) -- (GMP);
\draw[ar,rc] (XTP) |- ($(XMP)+(-6,2)$);
\draw[ar] (XppppX) -- (XTP);
\draw[ar] (XMP) -- (Xao);
\draw[lr] (Xao) -- (Xan);
\draw[ar,rc] (Xao) -- (765.8,561.7) -- (765.8,681.7) -- ($(Xan)+(-6.2,-3.6)$);
\draw[ar] (972,455.3) -- ($(XMP)+(6,0)$);
\draw[ar,rc] (833,682.7) -- (876.8,682.7) -- (876.8,461.3) -- ($(XMP)+(6,6)$);
\draw[ar] (978.2,690.3) -- ($(Xan)+(6.2,5)$);
\draw[ln] (823,691) -- (823,699.5);
\draw[ln] (827,691) -- (827,699.5);
\draw[ar] (823.5,712.5) -- (Urate);
\draw[ar,rc] (826.2,712.5) -- (826.2,726.7) -- (925.4,726.7) -- (UrImid);
\draw[lr] (Urate) -- (URibo);
\draw[ar] (Urate) -- (HIU);
\draw[ar] (HIU) -- (HOU);
\draw[ar] (HOU) -- (RAll);
\draw[ar] (HOU) -- (SAll);
\draw[lr] (SAll) -- (Allto);
\draw[lr,rc] (RAll) -| (SAll);
\draw[lr] (Allto) -- (UGlc);
\draw[ar,rc] (1091,903.3) -- (1101.3,903.3) -- (Urea);
\draw[ar,rc] (1001.8,899) |- (UGly);
\draw[ln,rc] (1003.7,898) |- (w61.west);
\draw[ar,rc] (1075,876.7) -- (1091.8,876.7) -- (UGly);
\draw[ar,rc] (w61.east) -- (1403.5,876.7) -- (CbP);
\draw[ar,rc] (UGly) -- (1370.7,837.3) -- (Gly);
\draw[ar,rc] (1296,837.3) -- (1309.1,837.3) -- (Oxu);
\draw[ar,rc] ($(UGly)+(5,2)$) -- (1180.5,840) -- (UGlc);
\draw[ar] (UGlc) -- (Oxu);
\draw[ar,rc] (1223.6,1000) -- (1223.6,908.3) -- ($(UGlc)+(6,5)$);
\draw[ar] (1223.6,960) -- (COt);
\draw[ar,rc] (1223.6,960) -- (1223.6,976.7) -- ($(Glx)+(6,-5.6)$);
\draw[ar,rc] (1223.6,980) -- (1223.6,1005.3) -- (NHb);
\draw[lr] (UGlc) -- (Glx);
\draw[ar,rc] (1180.5,935) -- (1180.5,953.3) -- (Urea);
\draw[dopn] (Glx) -- (mGlx.west |- Glx);
\draw[ar] (Urea) -- (HCOa);
\draw[ar,rc] (1101.3,990) -- (1101.3,1005.3) -- (NHb);
\draw[ar] (Oxu) -- (CbP);
\draw[ar,rc] (1365,902.3) -- (1383.5,902.3) -- (Oxam);
\draw[ar] (CbP) -- (HCOb);
\draw[ar,rc] (1470,902.3) -- (1491.3,902.3) -- (NHc);
\draw[ar] (Oxam) -- (Oxal);
\draw[ar,rc] (1383.5,965) -- (1383.5,978.3) -- (NHc);
\draw[ar] (UrImid) -- (AmImC);
\draw[ar] (AmImC) -- (AmIm);
\draw[ar] (AmIm) -- (Imdz);
\draw[ar] (Imdz) -- (Fgly);
\draw[ar] (Fgly) -- (Gly);
\draw[dopn] (Gly) -- (mGly.west |- Gly);
% hypoxanthine and IMP
\draw[ar] (IMP) -- (Ino);
\draw[lr] (Ino) -- (Hyp);
\draw[ar,rc] (978.2,684.3) -- (932.3,684.3) -- (932.3,461) -- ($(IMP)+(-6,2.3)$);
\draw[lr,rc] ($(IMP)+(6,6.3)$) -- (1061.2,465) -- (1061.2,557.3) -- ($(Ino)+(6,-6)$);
\draw[ar,rc] ($(Ino)+(5.8,4)$) -- (1048.2,567.3) -- (1048.2,683.3) -- ($(Hyp)+(6,-3.7)$);
\draw[lr,rc] ($(Hyp)+(.7,6)$) -- (985.8,756) -- (dIno);
\draw[ar,rc] (1048,459.5) -- (1039.4,459.5) -- (NHa);
\draw[dopn] (NHa) -- (mArg.south -| NHa);
\draw[ar] (dAdo) -- (dIno);
\draw[ar] (dAMP) -- (dAdo);
\draw[ar,rc] ($(dAdo)+(-7.3,5.5)$) -- (1558.9,664.3) -- (1380.2,664.3) -- (dAMP);
\draw[lr] (dADP) -- (dAMP);
\draw[ar] (ADP) -- (dADP);
\draw[ar] (ATP) -- (dATP);
\draw[lr] (dADP) -- (dATP);
\draw[dfil] (dATP) -- (DNAb);
\draw[lr] (ADP) -- (ATP);
\draw[ar] (ATP) -- (cAMP);
\draw[dfil,rc] ($(ATP)+(7,-4)$) -- (1590.4,457.3) -- (RNAb);
\draw[ar] (AdoTetra) -- (ATP);
% upper right
\draw[ar] (ApppA) -- (ADPtop);
\draw[ar] (AppppA) -- (ATPtop);
\draw[ar] (AdSulf) -- (AppppA);
\draw[ar] (Sulfate) -- (AdSulf);
\draw[ar] (AppppA) -- (ADPtop);
\draw[ar,rc] ($(ADPtop)+(-3.3,-5)$) -- (1370.5,270.7) -- (1370.5,230) -- ($(AppppA)+(-5.6,3.7)$);
\draw[ar] (AdSulf) -- (PAPS);
\draw[ar] (PAPS) -- (PAP);
\draw[ar,rc] (1570,293.3) -- (1592,293.3) -- (Sulfate);
\end{pgfonlayer}
\end{tikzpicture}
\end{document}
